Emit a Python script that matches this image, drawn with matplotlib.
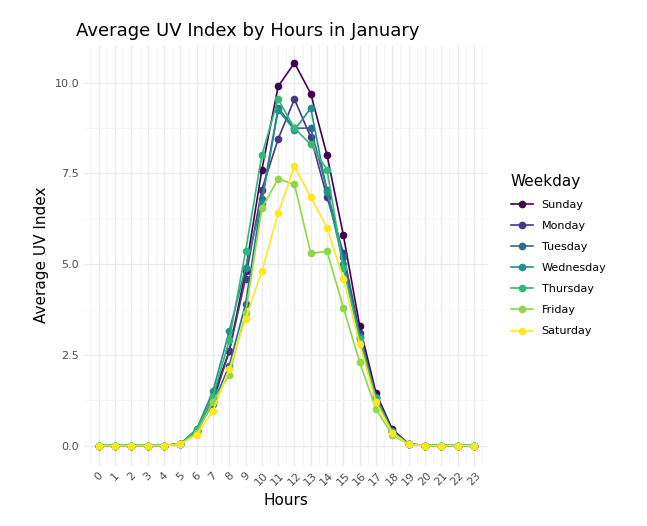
import numpy as np
import matplotlib.pyplot as plt

hours = np.arange(24)
days = ['Sunday', 'Monday', 'Tuesday', 'Wednesday', 'Thursday', 'Friday', 'Saturday']
z = [0, 0, 0, 0, 0]
sunday    = z + [0.05, 0.40, 1.35, 2.60, 4.80, 7.60, 9.90, 10.55, 9.70, 8.00, 5.80, 3.30, 1.45, 0.45, 0.05, 0, 0, 0, 0]
monday    = z + [0.05, 0.38, 1.20, 2.60, 4.60, 7.05, 8.45, 9.55, 8.50, 6.85, 5.30, 3.10, 1.35, 0.40, 0.04, 0, 0, 0, 0]
tuesday   = z + [0.05, 0.42, 1.15, 2.20, 3.90, 6.80, 9.30, 8.75, 8.75, 7.05, 5.20, 3.00, 1.35, 0.40, 0.04, 0, 0, 0, 0]
wednesday = z + [0.05, 0.45, 1.50, 3.15, 4.90, 6.70, 9.25, 8.70, 9.30, 7.00, 5.00, 3.00, 1.30, 0.38, 0.04, 0, 0, 0, 0]
thursday  = z + [0.05, 0.42, 1.35, 2.90, 5.35, 8.00, 9.55, 8.75, 8.30, 7.60, 4.90, 2.95, 1.30, 0.38, 0.04, 0, 0, 0, 0]
friday    = z + [0.04, 0.35, 1.20, 1.95, 3.65, 6.55, 7.35, 7.20, 5.30, 5.35, 3.80, 2.30, 1.00, 0.30, 0.03, 0, 0, 0, 0]
saturday  = z + [0.04, 0.30, 0.95, 2.10, 3.50, 4.80, 6.40, 7.70, 6.85, 6.00, 4.60, 2.80, 1.20, 0.35, 0.03, 0, 0, 0, 0]
series = [sunday, monday, tuesday, wednesday, thursday, friday, saturday]
colors = ['#440154', '#443a83', '#31688e', '#21908c', '#35b779', '#8fd744', '#fde725']

fig, ax = plt.subplots(figsize=(6.47, 5.26), dpi=100)
fig.subplots_adjust(left=0.13, right=0.755, top=0.915, bottom=0.115)
for name, vals, c in zip(days, series, colors):
    ax.plot(hours, vals, '-o', color=c, label=name, lw=1.2, ms=4.5)

ax.set_xlim(-0.9, 23.9)
ax.set_ylim(-0.55, 11.05)
ax.set_xticks(hours)
ax.set_xticklabels([str(h) for h in hours], rotation=45, fontsize=8, color='#4d4d4d')
ax.set_xticks(np.arange(-0.5, 24, 1), minor=True)
ax.set_yticks([0, 2.5, 5, 7.5, 10])
ax.set_yticklabels(['0.0', '2.5', '5.0', '7.5', '10.0'], fontsize=8, color='#4d4d4d')
ax.set_yticks(np.arange(1.25, 11, 2.5), minor=True)
ax.grid(True, which='major', color='#ebebeb', lw=1.0)
ax.grid(True, which='minor', color='#f4f4f4', lw=0.6)
ax.tick_params(which='both', length=0)
for s in ax.spines.values():
    s.set_visible(False)
ax.set_xlabel('Hours', fontsize=11)
ax.set_ylabel('Average UV Index', fontsize=11)
ax.set_title('Average UV Index by Hours in January', fontsize=13, loc='left', x=-0.02)
leg = ax.legend(title='Weekday', loc='center left', bbox_to_anchor=(1.03, 0.5), frameon=False,
                fontsize=8, title_fontsize=11, labelspacing=1.0)
leg._legend_box.align = 'left'
fig.savefig('out.png')
